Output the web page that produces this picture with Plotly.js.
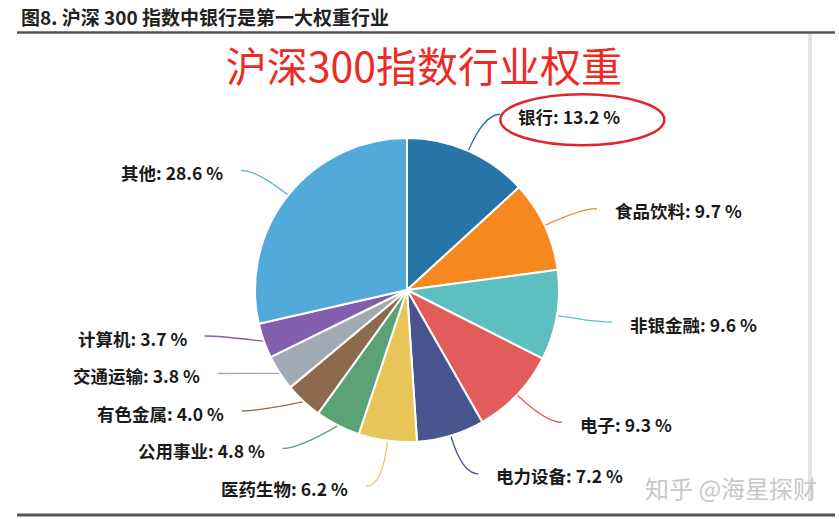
<!DOCTYPE html>
<html><head><meta charset="utf-8">
<script src="https://cdn.plot.ly/plotly-3.0.1.min.js"></script>
<style>
html,body{margin:0;padding:0;background:#fff;}
#chart{width:839px;height:519px;}
</style></head><body><div id="chart"></div>
<script>
// ---- data ----
const categories = ['银行','食品饮料','非银金融','电子','电力设备','医药生物','公用事业','有色金属','交通运输','计算机','其他'];
const weights = [13.2, 9.7, 9.6, 9.3, 7.2, 6.2, 4.8, 4.0, 3.8, 3.7, 28.6];
const sliceColors = ['#2675A6','#F5891F','#5EBFC1','#E25C5B','#48548D','#E8C65A','#5BA374','#8D6A4E','#A1AAB3','#845EAE','#52AADB'];
const headerText = '图8. 沪深 300 指数中银行是第一大权重行业';
const chartTitle = '沪深300指数行业权重';
const watermark = '知乎 @海星探财';
const highlighted = '银行';

// ---- layout constants ----
const W = 839, H = 519;
const CX = 407, CY = 290, R = 152;
const L1 = 40, L2 = 16, GAP = 16, MIN_DY = 37.5, MAX_Y = 486;
const px = x => x / W, py = y => 1 - y / H;
const FONT = 'Noto Sans CJK SC, Noto Sans, sans-serif';

const total = weights.reduce((a, b) => a + b, 0);
let cum = 0;
const items = weights.map((v, i) => {
  const mid = (cum + v / 2) / total * 2 * Math.PI; cum += v;
  const dx = Math.sin(mid), dy = -Math.cos(mid);
  return {i, dx, dy, right: dx >= 0,
    p0: [CX + (R + 1) * dx, CY + (R + 1) * dy],
    p1: [CX + (R + L1) * dx, CY + (R + L1) * dy],
    y: CY + (R + L1) * dy};
});
['right', 'left'].forEach(side => {
  const s = items.filter(it => (side === 'right') === it.right).sort((a, b) => a.y - b.y);
  for (let k = 1; k < s.length; k++) s[k].y = Math.max(s[k].y, s[k - 1].y + MIN_DY);
  if (s.length && s[s.length - 1].y > MAX_Y) {
    s[s.length - 1].y = MAX_Y;
    for (let k = s.length - 2; k >= 0; k--) s[k].y = Math.min(s[k].y, s[k + 1].y - MIN_DY);
  }
});
items.forEach(it => {
  const ny = it.y;
  if (Math.abs(ny - it.p1[1]) > 0.5) {
    const rr = R + L1, d = ny - CY;
    if (Math.abs(d) < rr) { const hx = Math.sqrt(rr * rr - d * d); it.p1 = [CX + (it.right ? hx : -hx), ny]; }
    else it.p1 = [it.p1[0], ny];
  }
  const sgn = it.right ? 1 : -1;
  it.p2 = [it.p1[0] + sgn * L2, ny];
  it.tx = it.p2[0] + sgn * GAP;
});

const shapes = [];
const annotations = [];
annotations.push({xref:'paper', yref:'paper', x:px(19), y:py(17), xanchor:'left', yanchor:'middle', showarrow:false,
  text: headerText, font:{family:FONT, size:19, color:'#222', weight:700}});
annotations.push({xref:'paper', yref:'paper', x:px(819), y:py(487), xanchor:'right', yanchor:'middle', showarrow:false,
  text: watermark, font:{family:FONT, size:24, color:'#c8c8c8'}});

items.forEach(it => {
  const f = p => px(p[0]) + ',' + py(p[1]);
  shapes.push({type:'path', xref:'paper', yref:'paper',
    path: 'M' + f(it.p0) + ' Q' + f(it.p1) + ' ' + f(it.p2),
    line:{color: sliceColors[it.i], width:1.3}});
  annotations.push({xref:'paper', yref:'paper', x:px(it.tx), y:py(it.y + 2),
    xanchor: it.right ? 'left' : 'right', yanchor:'middle', showarrow:false,
    text: categories[it.i] + ': ' + weights[it.i].toFixed(1) + ' %',
    font:{family:FONT, size:17.5, color:'#1a1a1a', weight:700}});
  if (categories[it.i] === highlighted) {
    shapes.push({type:'circle', xref:'paper', yref:'paper',
      x0: px(it.tx - 16), x1: px(it.tx + 148), y0: py(it.y - 20), y1: py(it.y + 31),
      line:{color:'#E3242B', width:2.5}});
  }
});
// frame lines
shapes.push({type:'line', xref:'paper', yref:'paper', x0:px(17), x1:px(835), y0:py(32.5), y1:py(32.5), line:{color:'#555', width:2.5}});
shapes.push({type:'line', xref:'paper', yref:'paper', x0:px(17), x1:px(835), y0:py(515), y1:py(515), line:{color:'#555', width:3}});
shapes.push({type:'line', xref:'paper', yref:'paper', x0:px(810), x1:px(810), y0:py(34), y1:py(500), line:{color:'#e4e4e4', width:4}});

const trace = {
  type:'pie', values: weights, labels: categories, sort:false, direction:'clockwise', rotation:0,
  marker:{colors: sliceColors, line:{color:'#fff', width:2}},
  textinfo:'none', hoverinfo:'skip', showlegend:false,
  domain:{x:[px(CX - R), px(CX + R)], y:[py(CY + R), py(CY - R)]}
};
const layout = {
  width:W, height:H, margin:{l:0, r:0, t:0, b:0}, paper_bgcolor:'#fff', showlegend:false,
  title:{text: chartTitle, x:px(424), xanchor:'center', y:py(68), yanchor:'middle', yref:'container',
    font:{family:FONT, size:41, color:'#EE2A24'}},
  shapes, annotations
};
Plotly.newPlot('chart', [trace], layout, {staticPlot:true, displayModeBar:false});
</script></body></html>
